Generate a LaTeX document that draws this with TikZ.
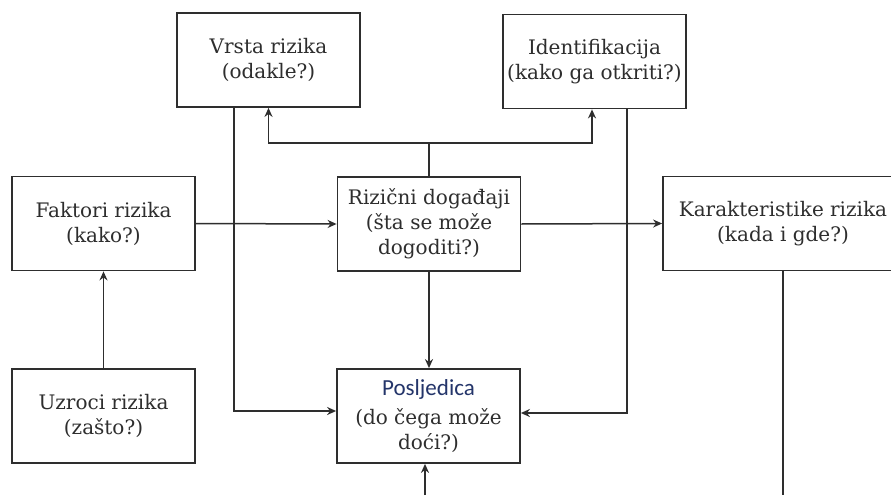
\documentclass[tikz,border=0pt]{standalone}
\usepackage{fontspec}
\setmainfont{DejaVu Serif}
\newfontfamily\calib{Carlito}
\usetikzlibrary{arrows.meta}
\definecolor{ink}{HTML}{2E2E2E}
\definecolor{navy}{HTML}{24356A}
\tikzset{
  boxnode/.style={draw=ink, line width=1.8pt, fill=white, text=ink, align=center,
    font=\fontsize{20}{25}\selectfont, inner sep=0pt, minimum width=183pt, minimum height=94pt},
  conn/.style={draw=ink, line width=1.5pt},
  arr/.style={conn, -{Stealth[length=9pt,width=8pt]}},
  arrb/.style={conn, {Stealth[length=9pt,width=8pt]}-{Stealth[length=9pt,width=8pt]}}
}
\begin{document}
\begin{tikzpicture}[x=1pt,y=-1pt]
\useasboundingbox (0,0) rectangle (891,495);
\fill[white] (0,0) rectangle (891,495);
\node[boxnode] (vrsta) at (268.5,60) {Vrsta rizika\\(odakle?)};
\node[boxnode] (ident) at (594.5,61.5) {Identifikacija\\(kako ga otkriti?)};
\node[boxnode] (fakt) at (103.5,223.5) {Faktori rizika\\(kako?)};
\node[boxnode] (riz) at (429,224) {Rizični događaji\\(šta se može\\dogoditi?)};
\node[boxnode, minimum width=240pt] (kar) at (783,223.5) {Karakteristike rizika\\(kada i gde?)};
\node[boxnode] (uzr) at (103.5,416) {Uzroci rizika\\(zašto?)};
\node[boxnode] (posl) at (428.5,416) {{\calib\fontsize{23}{25}\selectfont\color{navy}Posljedica}\\[4pt](do čega može\\doći?)};
\coordinate (j) at (429,143);
\coordinate (kb) at (783,495);
\coordinate (pb) at (425,495);
% connectors
\draw[arr] (fakt.east) -- (riz.west);
\draw[arr] (riz.east) -- (kar.west);
\draw[arr] (uzr.north) -- (fakt.south);
\draw[conn] (riz.north) -- (j);
\draw[arrb] (vrsta.south) -- (vrsta.south |- j) -| ([xshift=-2.5pt]ident.south);
\draw[arr] ([xshift=-34.5pt]vrsta.south) |- ([yshift=5pt]posl.west);
\draw[arr] ([xshift=32.5pt]ident.south) |- ([yshift=3pt]posl.east);
\draw[arr] (riz.south) -- (posl.north -| riz.south);
\draw[conn] (kar.south) -- (kb);
\draw[arr] (pb) -- (pb |- posl.south);
\end{tikzpicture}
\end{document}
